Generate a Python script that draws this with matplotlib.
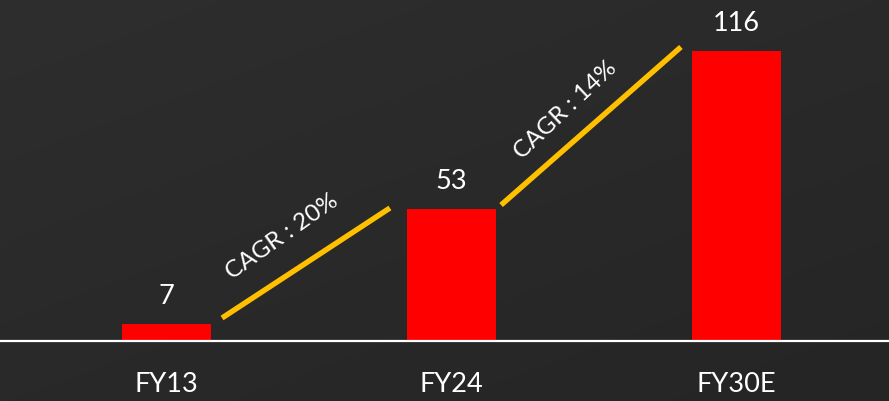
import numpy as np
import matplotlib
matplotlib.use("Agg")
import matplotlib.pyplot as plt

categories = ["FY13", "FY24", "FY30E"]
values = [7, 53, 116]
cagr_labels = ["CAGR : 20%", "CAGR : 14%"]

plt.rcParams['font.family'] = ['Lato', 'DejaVu Sans']

W, H, DPI = 889, 401, 100
fig = plt.figure(figsize=(W / DPI, H / DPI), dpi=DPI)

# background gradient
bg = fig.add_axes([0, 0, 1, 1], zorder=0)
yy, xx = np.mgrid[0:1:200j, 0:1:400j]
grad = 0.55 * yy + 0.45 * xx
c0 = np.array([0x2e, 0x2e, 0x2e]) / 255
c1 = np.array([0x25, 0x25, 0x25]) / 255
img = c0[None, None, :] * (1 - grad[..., None]) + c1[None, None, :] * grad[..., None]
bg.imshow(img, aspect='auto', extent=[0, 1, 0, 1], origin='upper')
bg.axis('off')

ax = fig.add_axes([0, 0, 1, 1], zorder=1)
ax.patch.set_alpha(0)
x = np.arange(len(categories))
bw = 0.312
ax.bar(x, values, width=bw, color='#FF0000', zorder=2)
ax.set_xlim(-0.584, 2.535)
ax.set_ylim(-24, 136.4)
ax.axhline(0, color='white', lw=1.6, zorder=3)
ax.axis('off')

for xi, v in zip(x, values):
    ax.text(xi, v + 6, str(v), ha='center', va='bottom', color='white', fontsize=19.5)
for xi, c in zip(x, categories):
    ax.text(xi, -17.5, c, ha='center', va='center', color='white', fontsize=19.5)

# CAGR lines
starts_dx = [0.039, 0.018]
ends_dx = [0.06, 0.039]
starts_dy = [2.2, 1.4]
ends_dy = [0.2, 1.6]
text_off = [(-24, 26), (-26, 16)]
for i, lab in enumerate(cagr_labels):
    x0 = x[i] + bw / 2 + starts_dx[i]
    y0 = values[i] + starts_dy[i]
    x1 = x[i + 1] - bw / 2 - ends_dx[i]
    y1 = values[i + 1] + ends_dy[i]
    ax.plot([x0, x1], [y0, y1], color='#FFC000', lw=3.9, solid_capstyle='butt', zorder=2)
    p0 = ax.transData.transform((x0, y0))
    p1 = ax.transData.transform((x1, y1))
    ang = np.degrees(np.arctan2(p1[1] - p0[1], p1[0] - p0[0]))
    ax.annotate(lab, xy=((x0 + x1) / 2, (y0 + y1) / 2), xytext=text_off[i],
                textcoords='offset pixels', ha='center', va='center',
                rotation=ang + 2, rotation_mode='anchor', color='white', fontsize=17.5)

fig.savefig('out.png', dpi=DPI)
